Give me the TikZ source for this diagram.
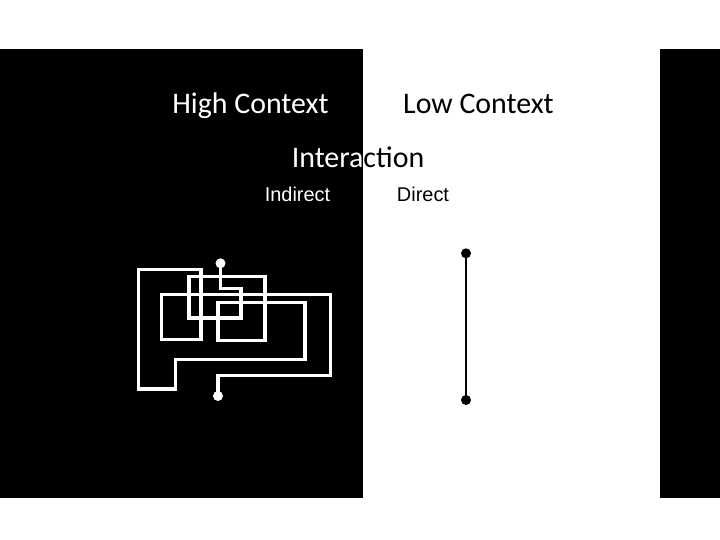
\documentclass[tikz,border=0pt]{standalone}
\usepackage{fontspec}
\setmainfont{Carlito}
\newfontfamily\arialfont{Liberation Sans}
\usetikzlibrary{arrows.meta}
\tikzset{
  every picture/.style={line join=round, line cap=round},
  panel/.style={fill=black, draw=none},
  heading/.style={font=\fontsize{30}{35}\selectfont, anchor=base, inner sep=0pt},
  sublabel/.style={font=\arialfont\fontsize{20}{24}\selectfont, anchor=base, inner sep=0pt},
  maze/.style={white, line width=3.2bp, line join=miter, line cap=butt},
  tip/.style={circle, inner sep=0pt, minimum size=10bp},
}

\begin{document}
\begin{tikzpicture}[x=1bp,y=-1bp]
\useasboundingbox (0,0) rectangle (720,540);
% dark panels
\fill[panel] (0,49.3) rectangle (363.3,498.3);
\fill[panel] (660,49.3) rectangle (720,498.3);
% headings
\node[heading,white] (high) at (250.5,113.5) {High Context};
\node[heading] (low) at (478.5,113.5) {Low Context};
\begin{scope}
\clip (0,0) rectangle (363.3,540);
\node[heading,white] (inter) at (358,167.5) {Interaction};
\end{scope}
\begin{scope}
\clip (363.3,0) rectangle (720,540);
\node[heading] (interdark) at (358,167.5) {Interaction};
\end{scope}
\node[sublabel,white] (indirect) at (297.5,202) {Indirect};
\node[sublabel] (direct) at (423,202) {Direct};
% indirect path
\node[tip,fill=white] (hcstart) at (220.5,263.3) {};
\node[tip,fill=white] (hcend) at (218,396) {};
\draw[maze] (hcstart.center) -- (220.5,288.5) -- (241,288.5) -- (241,318) -- (189,318)
  -- (189,276.7) -- (265,276.7) -- (265,340.7) -- (218,340.7) -- (218,302.5)
  -- (305,302.5) -- (305,359.3) -- (175.5,359.3) -- (175.5,389) -- (138.3,389)
  -- (138.3,269.3) -- (201,269.3) -- (201,339.3) -- (161.7,339.3) -- (161.7,294.5)
  -- (330.5,294.5) -- (330.5,375.8) -- (218,375.8) -- (hcend.center);
% direct path
\node[tip,fill=black] (lcstart) at (466,253.3) {};
\node[tip,fill=black] (lcend) at (466,400) {};
\draw[line width=2.2bp] (lcstart.center) -- (lcend.center);
\end{tikzpicture}
\end{document}
